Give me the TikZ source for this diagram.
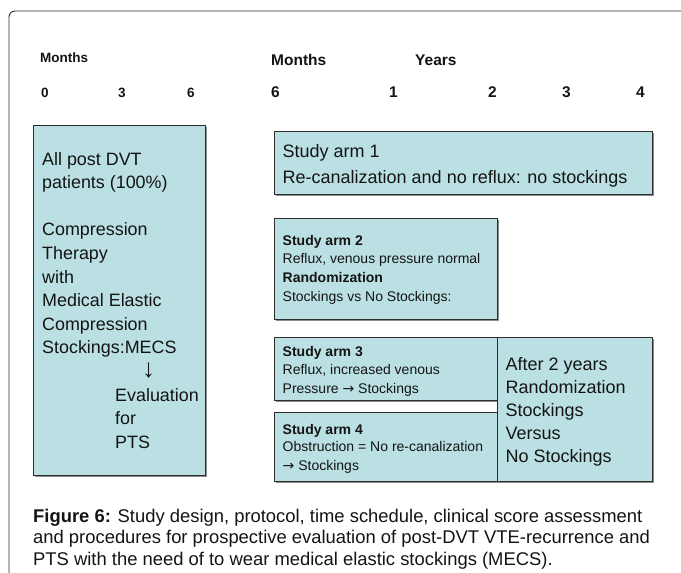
\documentclass[tikz,border=0pt]{standalone}
\usepackage{fontspec}
\setmainfont{Liberation Sans}
\newfontfamily\arrowfont{DejaVu Sans}
\usetikzlibrary{shadows}

\definecolor{panelfill}{RGB}{187,224,227}
\definecolor{panelline}{RGB}{45,45,45}
\definecolor{inkcol}{RGB}{20,20,20}

% lines stacked at the current baselineskip, baseline = first line
\newcommand\linestack[1]{\begin{tabular}[t]{@{}l@{}}#1\end{tabular}}
\newcommand\fsz[2]{\fontsize{#1}{#2}\selectfont}
\newcommand\rarr{{\arrowfont →}}
\newcommand\darr{{\fontsize{26}{26}\selectfont ↓}}

\tikzset{
  panel/.style={draw=panelline, line width=0.9pt, fill=panelfill,
    anchor=north west, inner sep=0pt,
    drop shadow={shadow xshift=1.2pt, shadow yshift=-1.2pt, fill=black!45, opacity=1}},
  txt/.style={inner sep=0pt, anchor=base west, text=inkcol},
  headsmall/.style={txt, font=\fsz{13.5}{16}\bfseries},
  headbig/.style={txt, font=\fsz{15.5}{18}\bfseries},
}

\begin{document}
\begin{tikzpicture}[x=1pt, y=-1pt]
\useasboundingbox (0,0) rectangle (681,573);

% outer frame (only top and left edges fall inside the page)
\draw[panelline, line width=0.9pt, rounded corners=6pt] (9,573) -- (9,11) -- (681,11);

% time axis headings
\node[headsmall] (mon1) at (40,62) {Months};
\node[headsmall] (m0) at (41,97) {0};
\node[headsmall] (m3) at (118,97) {3};
\node[headsmall] (m6) at (187,97) {6};
\node[headbig] (mon2) at (271,65) {Months};
\node[headbig] (yrs) at (415,65) {Years};
\node[headbig] (m6b) at (271,97) {6};
\node[headbig] (y1) at (389,97) {1};
\node[headbig] (y2) at (488,97) {2};
\node[headbig] (y3) at (562,97) {3};
\node[headbig] (y4) at (636,97) {4};

% panels
\node[panel, minimum width=172pt, minimum height=350pt] (allpts) at (33,125) {};
\node[panel, minimum width=378pt, minimum height=63pt] (arm1) at (274,131) {};
\node[panel, minimum width=223pt, minimum height=101pt] (arm2) at (274,218) {};
\node[panel, minimum width=223pt, minimum height=63pt] (arm3) at (274,337) {};
\node[panel, minimum width=223pt, minimum height=69pt] (arm4) at (274,412) {};
\node[panel, minimum width=155pt, minimum height=144pt] (after2) at (497,337) {};

% panel texts
\node[txt, font=\fsz{17.9}{23.6}] (allptsT) at (42,165)
  {\linestack{All post DVT\\patients (100\%)\\ \\Compression\\Therapy\\with\\Medical Elastic\\Compression\\Stockings:MECS}};
\node[txt, font=\fsz{17.9}{23.6}] (evalT) at (115,377.4)
  {\linestack{\hspace{27pt}\darr\\Evaluation\\for\\PTS}};

\node[txt, font=\fsz{18}{26}] (arm1T) at (282.5,157.3)
  {\linestack{Study arm 1\\Re-canalization and no reflux: no stockings}};

\node[txt, font=\fsz{14}{18.7}] (arm2T) at (282.5,245)
  {\linestack{\textbf{Study arm 2}\\Reflux, venous pressure normal\\\textbf{Randomization}\\Stockings vs No Stockings:}};

\node[txt, font=\fsz{14}{18.5}] (arm3T) at (282.5,356)
  {\linestack{\textbf{Study arm 3}\\Reflux, increased venous\\Pressure \rarr\ Stockings}};

\node[txt, font=\fsz{14}{17}] (arm4T) at (282.5,434)
  {\linestack{\textbf{Study arm 4}\\Obstruction = No re-canalization\\[2.5pt]\rarr\ Stockings}};

\node[txt, font=\fsz{18}{23}] (after2T) at (505.5,370)
  {\linestack{After 2 years\\Randomization\\Stockings\\Versus\\No Stockings}};

% caption
\node[txt, font=\fsz{18.4}{21.8}] (caption) at (33,522)
  {\linestack{\textbf{Figure 6:} Study design, protocol, time schedule, clinical score assessment\\
  and procedures for prospective evaluation of post-DVT VTE-recurrence and\\
  PTS with the need of to wear medical elastic stockings (MECS).}};
\end{tikzpicture}
\end{document}
